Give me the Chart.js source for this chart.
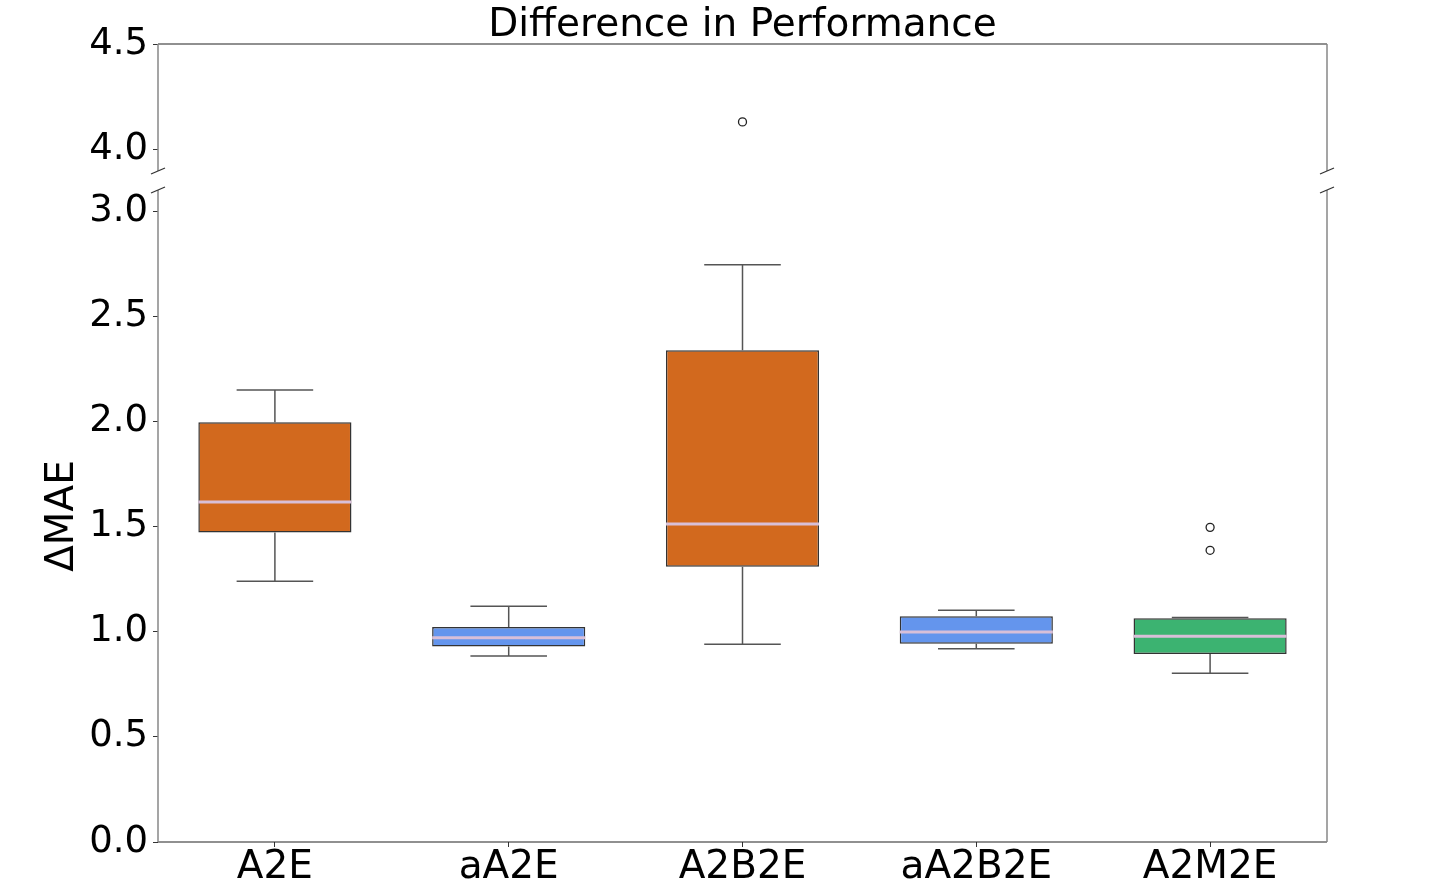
<!DOCTYPE html>
<html><head><meta charset="utf-8">
<script src="https://cdn.jsdelivr.net/npm/chart.js@4.4.1/dist/chart.umd.min.js"></script>
<style>
html,body{margin:0;padding:0;background:#fff;overflow:hidden;width:1435px;height:887px;}
#top{position:absolute;left:0;top:0;width:1435px;height:200px;}
#bot{position:absolute;left:0;top:150px;width:1435px;height:737px;}
canvas{display:block;}
</style></head><body>
<div id="bot"><canvas id="cBot" width="1435" height="737"></canvas></div>
<div id="top"><canvas id="cTop" width="1435" height="200"></canvas></div>
<script>
const categories = ['A2E', 'aA2E', 'A2B2E', 'aA2B2E', 'A2M2E'];
const whiskerLow  = [1.240, 0.884, 0.940, 0.919, 0.802];
const q1          = [1.471, 0.929, 1.309, 0.943, 0.894];
const median      = [1.617, 0.971, 1.512, 0.999, 0.978];
const q3          = [1.996, 1.022, 2.338, 1.073, 1.064];
const whiskerHigh = [2.149, 1.121, 2.744, 1.102, 1.067];
const outlierCategory = ['A2B2E', 'A2M2E', 'A2M2E'];
const outlierValue    = [4.132, 1.496, 1.387];
const topTicks    = [4.0, 4.5];
const bottomTicks = [0.0, 0.5, 1.0, 1.5, 2.0, 2.5, 3.0];

const boxColors = ['#D2691E', '#6495ED', '#D2691E', '#6495ED', '#3CB371'];
const TOP_RANGE = [3.9, 4.5];
const BOT_RANGE = [0, 3.1];

Chart.defaults.font.family = "'DejaVu Sans', sans-serif";
Chart.defaults.color = '#000';

const AXIS_W = 158;
const RIGHT_PAD = 1435 - 1327;

function outlierPoints(lo, hi) {
  const pts = [];
  outlierValue.forEach((v, i) => { if (v >= lo && v <= hi) pts.push({x: outlierCategory[i], y: v}); });
  return pts;
}

function breakMark(ctx, px, py) {
  ctx.beginPath();
  ctx.moveTo(px - 7, py + 3);
  ctx.lineTo(px + 7, py - 3);
  ctx.stroke();
}

function makePlugin(kind) {
  return {
    id: 'extras_' + kind,
    afterDatasetsDraw(chart) {
      const {ctx, chartArea: a} = chart;
      ctx.save();
      if (kind === 'bottom') {
        const xs = chart.scales.x, ys = chart.scales.y;
        const meta = chart.getDatasetMeta(0);
        categories.forEach((c, i) => {
          const bar = meta.data[i];
          const cx = xs.getPixelForValue(i);
          const w = bar.width;
          const yHi = ys.getPixelForValue(whiskerHigh[i]);
          const yLo = ys.getPixelForValue(whiskerLow[i]);
          ctx.strokeStyle = '#555';
          ctx.lineWidth = 1.5;
          ctx.beginPath();
          ctx.moveTo(cx, ys.getPixelForValue(q3[i])); ctx.lineTo(cx, yHi);
          ctx.moveTo(cx, ys.getPixelForValue(q1[i])); ctx.lineTo(cx, yLo);
          ctx.moveTo(cx - w / 4, yHi); ctx.lineTo(cx + w / 4, yHi);
          ctx.moveTo(cx - w / 4, yLo); ctx.lineTo(cx + w / 4, yLo);
          ctx.stroke();
          const ym = ys.getPixelForValue(median[i]);
          ctx.strokeStyle = '#D8BFD8';
          ctx.lineWidth = 3;
          ctx.beginPath();
          ctx.moveTo(cx - w / 2, ym); ctx.lineTo(cx + w / 2, ym);
          ctx.stroke();
        });
      }
      // frame
      ctx.lineWidth = 1.2;
      ctx.strokeStyle = '#222';
      ctx.beginPath();
      if (kind === 'top') { ctx.moveTo(a.left, a.top); ctx.lineTo(a.right, a.top); }
      else { ctx.moveTo(a.left, a.bottom); ctx.lineTo(a.right, a.bottom); }
      ctx.stroke();
      ctx.strokeStyle = '#888';
      ctx.lineWidth = 1.5;
      ctx.beginPath();
      ctx.moveTo(a.left, a.top); ctx.lineTo(a.left, a.bottom);
      ctx.moveTo(a.right, a.top); ctx.lineTo(a.right, a.bottom);
      ctx.stroke();
      ctx.strokeStyle = '#333';
      ctx.lineWidth = 1.3;
      const by = kind === 'top' ? a.bottom : a.top;
      breakMark(ctx, a.left, by);
      breakMark(ctx, a.right, by);
      ctx.restore();
    }
  };
}

const commonX = (display) => {
  const cfg = {
    type: 'category',
    offset: true,
    display: display,
    grid: {display: true, drawOnChartArea: false, drawTicks: true, tickLength: 5, color: '#333', offset: false},
    border: {display: false},
    ticks: {font: {size: 39, lineHeight: 1}, padding: 1, color: '#000'}
  };
  if (display) cfg.afterFit = s => { s.height = 45; };
  return cfg;
};
const commonY = (range, tickVals) => ({
  type: 'linear',
  min: range[0],
  max: range[1],
  afterBuildTicks: s => { s.ticks = tickVals.map(v => ({value: v})); },
  afterFit: s => { s.width = AXIS_W; },
  grid: {display: true, drawOnChartArea: false, drawTicks: true, tickLength: 5, color: '#333'},
  border: {display: false},
  ticks: {font: {size: 37}, padding: 5, color: '#000', callback: v => Number(v).toFixed(1)}
});

const outlierStyle = {
  type: 'line',
  showLine: false,
  pointStyle: 'circle',
  pointRadius: 4,
  pointBorderWidth: 1.3,
  pointBorderColor: '#222',
  pointBackgroundColor: 'rgba(0,0,0,0)',
  clip: false
};

// top panel
const yTop = commonY(TOP_RANGE, topTicks);
new Chart(document.getElementById('cTop'), {
  type: 'line',
  data: {
    labels: categories,
    datasets: [Object.assign({label: 'outliers', data: outlierPoints(TOP_RANGE[0], TOP_RANGE[1])}, outlierStyle)]
  },
  options: {
    responsive: false,
    animation: false,
    layout: {padding: {left: 0, right: RIGHT_PAD, top: 0, bottom: 29}},
    plugins: {
      legend: {display: false},
      tooltip: {enabled: false},
      title: {
        display: true,
        text: 'Difference in Performance',
        fullSize: false,
        color: '#000',
        font: {size: 39, weight: 'normal', lineHeight: 0.9},
        padding: {top: 8, bottom: 0.9}
      }
    },
    scales: {x: commonX(false), y: yTop}
  },
  plugins: [makePlugin('top')]
});

// bottom panel
const yBot = commonY(BOT_RANGE, bottomTicks);
yBot.title = {display: true, text: 'ΔMAE', color: '#000', font: {size: 39, lineHeight: 1}, padding: {top: 43, bottom: 0}};
new Chart(document.getElementById('cBot'), {
  type: 'bar',
  data: {
    labels: categories,
    datasets: [
      {
        label: 'boxes',
        data: q1.map((v, i) => [v, q3[i]]),
        backgroundColor: boxColors,
        borderColor: '#333',
        borderWidth: 1.5,
        borderSkipped: false,
        barPercentage: 0.655,
        categoryPercentage: 1.0
      },
      Object.assign({label: 'outliers', data: outlierPoints(BOT_RANGE[0], BOT_RANGE[1])}, outlierStyle)
    ]
  },
  options: {
    responsive: false,
    animation: false,
    layout: {padding: {left: 0, right: RIGHT_PAD, top: 40, bottom: 0}},
    plugins: {legend: {display: false}, tooltip: {enabled: false}, title: {display: false}},
    scales: {x: commonX(true), y: yBot}
  },
  plugins: [makePlugin('bottom')]
});
</script>
</body></html>
